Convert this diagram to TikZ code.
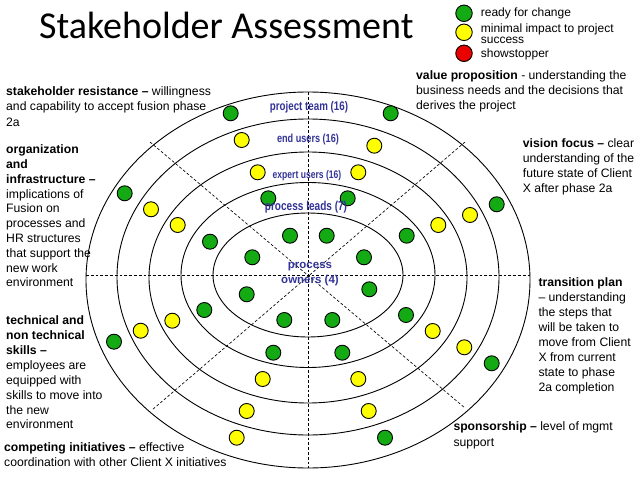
\documentclass[tikz,border=0pt]{standalone}
\usepackage{fontspec}
\setmainfont{Liberation Sans}
\newfontfamily\titlefont{Carlito}
\newfontfamily\ringfont[FakeStretch=0.78]{Liberation Sans}
\definecolor{dgreen}{RGB}{20,170,20}
\definecolor{dyellow}{RGB}{255,255,0}
\definecolor{dred}{RGB}{235,0,0}
\definecolor{lblue}{RGB}{51,51,153}
\newcommand\fl{\rule{0pt}{10pt}}
\begin{document}
\begin{tikzpicture}[x=1pt,y=-1pt,
 ring/.style={draw=black,line width=0.9pt},
 guide/.style={draw=black,line width=0.65pt,dash pattern=on 2.8pt off 2pt},
 dot/.style={circle,draw=black,line width=0.9pt,minimum size=15pt,inner sep=0pt},
 gdot/.style={dot,fill=dgreen},
 ydot/.style={dot,fill=dyellow},
 rdot/.style={dot,fill=dred},
 ldot/.style={circle,draw=black,line width=0.9pt,minimum size=16.5pt,inner sep=0pt},
 body/.style={anchor=north west,inner sep=0pt,align=left,font=\fontsize{12.2}{#1}\selectfont},
 body/.default=15,
 legtext/.style={anchor=north west,inner sep=0pt,align=left,font=\fontsize{12}{11.3}\selectfont},
 ringlabel/.style={text=lblue,inner sep=0pt,align=center,font=\ringfont\bfseries\fontsize{#1}{15}\selectfont},
 ownerlabel/.style={text=lblue,inner sep=0pt,align=center,font=\bfseries\fontsize{11.5}{15}\selectfont},
]
\useasboundingbox (0,0) rectangle (638,479);
\fill[white] (0,0) rectangle (638,479);

% rings
\draw[ring] (308,275) ellipse [x radius=95pt, y radius=62pt];
\draw[ring] (308,275) ellipse [x radius=127pt, y radius=92.5pt];
\draw[ring] (308,277.5) ellipse [x radius=159pt, y radius=125.5pt];
\draw[ring] (308,277) ellipse [x radius=191pt, y radius=158pt];
\draw[ring] (308,280) ellipse [x radius=222pt, y radius=188pt];

% guide lines
\coordinate (hl) at (86,275);
\coordinate (hr) at (530,275);
\coordinate (vt) at (308,92);
\coordinate (vb) at (308,468);
\coordinate (d1a) at (150,142);
\coordinate (d1b) at (465,408);
\coordinate (d2a) at (465,142);
\coordinate (d2b) at (152,410);
\draw[guide] (hl) -- (hr);
\draw[guide] (vt) -- (vb);
\draw[guide] (d1a) -- (d1b);
\draw[guide] (d2a) -- (d2b);

% dots
\foreach \x/\y [count=\i] in {230.7/113.3, 390.7/113.3, 268.3/198.3, 347.7/198.3, 124.7/193.3,
  210/241.7, 290/235.7, 326.7/235.7, 252.3/257.3, 364/257.3, 406.7/235.7, 496.7/204.3,
  246.7/294.3, 369.3/289.3, 204.3/310, 114/341.7, 284.3/320, 332.3/320, 273.3/352.7,
  342.3/352.7, 406/315, 491.7/363.3, 385/437.7}
  \node[gdot] (g\i) at (\x,\y) {};
\foreach \x/\y [count=\i] in {241.7/140, 374.3/145.7, 257.7/172.3, 358.3/172.3, 151/209.3,
  177.7/225, 438.3/225, 470/215, 172.3/320.7, 140.7/330.7, 432.7/331, 464.3/347.3,
  262.7/379, 358.3/379, 246.7/411, 368.7/411, 236.7/437.7}
  \node[ydot] (y\i) at (\x,\y) {};

% ring labels
\node[ringlabel=12.5] (lpt) at (309,107.5) {project team (16)};
\node[ringlabel=11.7] (leu) at (308,139.5) {end users (16)};
\node[ringlabel=11] (lxu) at (307,176) {expert users (16)};
\node[ringlabel=12.9] (lpl) at (306,207) {process leads (7)};
\node[ownerlabel] (lpo) at (310,274.5) {process\\owners (4)};

% title
\node[anchor=base west,inner sep=0pt,font=\titlefont\fontsize{38}{40}\selectfont] (title) at (39,38) {Stakeholder Assessment};

% legend
\node[ldot,fill=dgreen] (lg) at (464,13.3) {};
\node[ldot,fill=dyellow] (ly) at (464,32.3) {};
\node[ldot,fill=dred] (lr) at (464,53.3) {};
\node[legtext] (tg) at (480.7,6) {\fl ready for change};
\node[legtext] (ty) at (480.7,22.3) {\fl minimal impact to project\\success};
\node[legtext] (tr) at (480.7,47) {\fl showstopper};

% descriptions
\node[body=15.5] (t1) at (6,85.1) {\fl\textbf{stakeholder resistance –} willingness\\and capability to accept fusion phase\\2a};
\node[body=14.8] (t2) at (6,143.4) {\fl\textbf{organization}\\\textbf{and}\\\textbf{infrastructure –}\\implications of\\Fusion on\\processes and\\HR structures\\that support the\\new work\\environment};
\node[body=14.9] (t3) at (6,314.4) {\fl\textbf{technical and}\\\textbf{non technical}\\\textbf{skills –}\\employees are\\equipped with\\skills to move into\\the new\\environment};
\node[body=15.6] (t4) at (4,441.1) {\fl\textbf{competing initiatives –} effective\\coordination with other Client X initiatives};
\node[body] (t5) at (416,69.4) {\fl\textbf{value proposition} - understanding the\\business needs and the decisions that\\derives the project};
\node[body] (t6) at (522.7,137.1) {\fl\textbf{vision focus –} clear\\understanding of the\\future state of Client\\X after phase 2a};
\node[body] (t7) at (538.3,276.1) {\fl\textbf{transition plan}\\– understanding\\the steps that\\will be taken to\\move from Client\\X from current\\state to phase\\2a completion};
\node[body=15.7] (t8) at (453.3,420.4) {\fl\textbf{sponsorship –} level of mgmt\\support};
\end{tikzpicture}
\end{document}
